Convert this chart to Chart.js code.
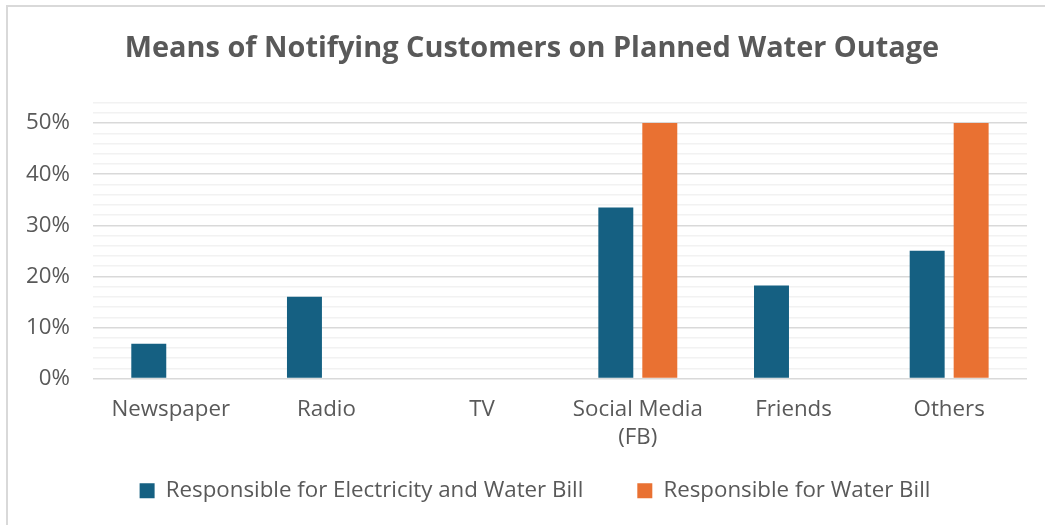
<!DOCTYPE html>
<html>
<head>
<meta charset="utf-8">
<script src="https://cdn.jsdelivr.net/npm/chart.js@4.4.1/dist/chart.umd.min.js"></script>
<style>
  html, body { margin: 0; padding: 0; background: #ffffff; }
  #wrap { position: relative; width: 1045px; height: 525px; overflow: hidden; }
  canvas { display: block; }
</style>
</head>
<body>
<div id="wrap"><canvas id="chart" width="1045" height="525"></canvas></div>
<script>
// Notification channels and share of respondents per group
const categories = ["Newspaper", "Radio", "TV", ["Social Media", "(FB)"], "Friends", "Others"];
const electricityAndWater = [0.068, 0.16, 0, 0.335, 0.182, 0.25];
const waterOnly = [0, 0, 0, 0.50, 0, 0.50];
const seriesNames = ["Responsible for Electricity and Water Bill", "Responsible for Water Bill"];
const chartTitle = "Means of Notifying Customers on Planned Water Outage";

const FONT = "'Open Sans', 'Liberation Sans', sans-serif";
const TEXT = "#595959";
const LABEL_SIZE = 22.3;

// Thin frame around the chart area
const framePlugin = {
  id: 'frame',
  beforeDraw(chart) {
    const ctx = chart.ctx;
    ctx.save();
    ctx.fillStyle = '#ffffff';
    ctx.fillRect(0, 0, chart.width, chart.height);
    ctx.strokeStyle = '#d9d9d9';
    ctx.lineWidth = 2;
    ctx.strokeRect(7, 6, chart.width + 10, chart.height + 10);
    ctx.restore();
  }
};

// Centre the title and legend row on the framed area rather than the canvas
const centreOffsetPlugin = {
  id: 'centreOffset',
  afterLayout(chart) {
    const lg = chart.legend;
    if (lg) { lg.left += 20; lg.right += 20; }
    const tb = chart.titleBlock;
    if (tb) { tb.left += 17; tb.right += 17; }
  }
};

new Chart(document.getElementById('chart'), {
  type: 'bar',
  data: {
    labels: categories,
    datasets: [
      { label: seriesNames[0], data: electricityAndWater, backgroundColor: '#156082' },
      { label: seriesNames[1], data: waterOnly, backgroundColor: '#e97132' }
    ]
  },
  options: {
    responsive: false,
    animation: false,
    devicePixelRatio: 1,
    categoryPercentage: 0.565,
    barPercentage: 0.795,
    layout: { padding: { left: 3, right: 18, top: 27, bottom: 13 } },
    plugins: {
      title: {
        display: true,
        text: chartTitle,
        color: TEXT,
        font: { family: FONT, size: 28.9, weight: 'bold' },
        padding: { top: 4, bottom: 37 }
      },
      legend: {
        position: 'bottom',
        // empty title with negative padding pulls the row up under the wide item spacing
        title: { display: true, text: '', font: { size: 1 }, padding: { top: -26.1, bottom: 0 } },
        labels: {
          color: TEXT,
          font: { family: FONT, size: LABEL_SIZE },
          boxWidth: 15,
          boxHeight: 15,
          padding: 54
        }
      },
      tooltip: { enabled: false }
    },
    scales: {
      x: {
        grid: { display: false, drawTicks: false },
        border: { display: false },
        ticks: {
          color: TEXT,
          font: { family: FONT, size: LABEL_SIZE, lineHeight: 1.25 },
          maxRotation: 0,
          padding: 17
        },
        afterFit: (scale) => { scale.height = 72; }
      },
      y: {
        min: 0,
        max: 0.54,
        border: { display: false },
        grid: {
          color: (c) => (Math.round(c.tick.value * 100) % 10 === 0 ? '#d9d9d9' : '#f2f2f2'),
          lineWidth: 1.5,
          drawTicks: false
        },
        ticks: {
          stepSize: 0.02,
          autoSkip: false,
          color: TEXT,
          font: { family: FONT, size: LABEL_SIZE },
          padding: 23,
          callback: (v) => {
            const p = Math.round(v * 100);
            return p % 10 === 0 ? p + '%' : '';
          }
        }
      }
    }
  },
  plugins: [framePlugin, centreOffsetPlugin]
});
</script>
</body>
</html>
